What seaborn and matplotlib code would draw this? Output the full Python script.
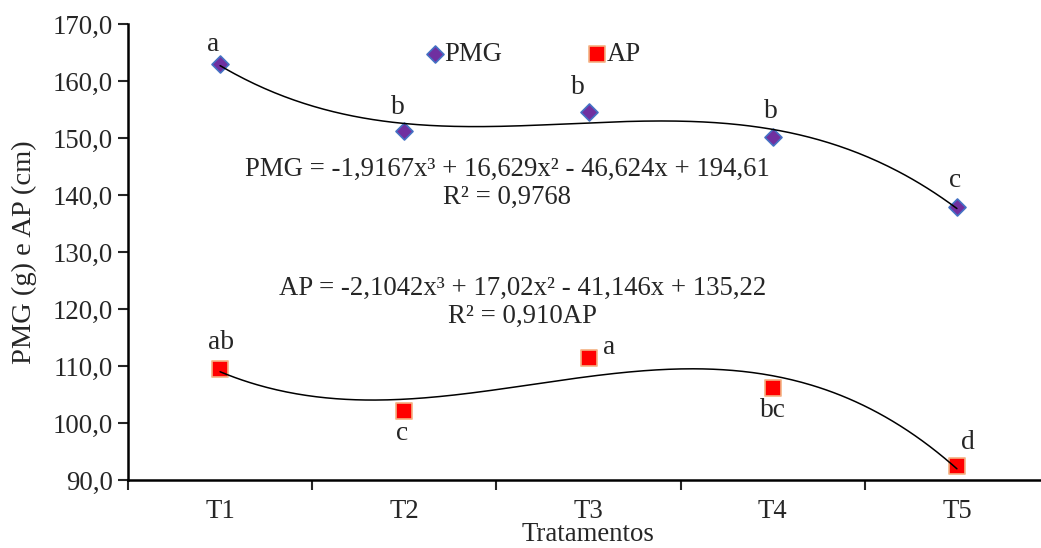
import numpy as np
import pandas as pd
import matplotlib
matplotlib.use("Agg")
import matplotlib.pyplot as plt
import seaborn as sns

# Treatments and measured means
tratamentos = ["T1", "T2", "T3", "T4", "T5"]
pmg = [163.0, 151.2, 154.6, 150.2, 137.9]
ap = [109.5, 102.1, 111.4, 106.1, 92.5]

# Mean-separation letters
letras_pmg = ["a", "b", "b", "b", "c"]
letras_ap = ["ab", "c", "a", "bc", "d"]

# Cubic trend coefficients (x = 1..5), highest degree first
coef_pmg = [-1.9167, 16.629, -46.624, 194.61]
coef_ap = [-2.1042, 17.02, -41.146, 135.22]

eq_pmg = "PMG = -1,9167x\u00b3 + 16,629x\u00b2 - 46,624x + 194,61\nR\u00b2 = 0,9768"
eq_ap = "AP = -2,1042x\u00b3 + 17,02x\u00b2 - 41,146x + 135,22\nR\u00b2 = 0,910AP"

y_ticks = [90, 100, 110, 120, 130, 140, 150, 160, 170]

sns.set_theme(style="ticks")
plt.rcParams["font.family"] = ["Liberation Serif", "DejaVu Serif"]

FS = 19.3

fig = plt.figure(figsize=(10.41, 5.48), dpi=100)
ax = fig.add_axes([128 / 1041, 68 / 548, 921 / 1041, 456 / 548])

pos = np.arange(len(tratamentos))
df = pd.DataFrame({"pos": pos, "PMG": pmg, "AP": ap})

sns.scatterplot(data=df, x="pos", y="PMG", ax=ax, marker="D", s=75,
                color="#7030A0", edgecolor="#4472C4", linewidth=1.2,
                label="PMG", zorder=3)
sns.scatterplot(data=df, x="pos", y="AP", ax=ax, marker="s", s=120,
                color="#FF0000", edgecolor="#F4B183", linewidth=1.2,
                label="AP", zorder=3)

# Fitted cubic curves over treatment index 1..5
xs = np.linspace(1, 5, 300)
curves = pd.DataFrame({
    "pos": xs - 1,
    "PMG": np.polyval(coef_pmg, xs),
    "AP": np.polyval(coef_ap, xs),
})
sns.lineplot(data=curves, x="pos", y="PMG", ax=ax, color="black",
             linewidth=1.1, legend=False, zorder=4)
sns.lineplot(data=curves, x="pos", y="AP", ax=ax, color="black",
             linewidth=1.1, legend=False, zorder=4)

# Letters next to each mean
off_pmg = [(-7, 19), (-6, 24), (-11, 24), (-2, 25), (-2, 26)]
off_ap = [(1, 26), (-2, -22), (21, 11), (0, -22), (11, 23)]
for i in range(len(tratamentos)):
    ax.annotate(letras_pmg[i], (pos[i], pmg[i]), xytext=off_pmg[i],
                textcoords="offset pixels", ha="center", va="center",
                fontsize=FS + 0.5)
    ax.annotate(letras_ap[i], (pos[i], ap[i]), xytext=off_ap[i],
                textcoords="offset pixels", ha="center", va="center",
                fontsize=FS + 0.5)

ax.text(2 - 81 / 184, 142.0, eq_pmg, ha="center", va="center",
        fontsize=FS, linespacing=1.15)
ax.text(2 - 66 / 184, 121.1, eq_ap, ha="center", va="center",
        fontsize=FS, linespacing=1.15)

ax.set_xlim(-0.5, 4.5)
ax.set_ylim(90, 170)
ax.set_yticks(y_ticks)
ax.set_yticklabels([f"{v:.1f}".replace(".", ",") for v in y_ticks], fontsize=FS)
ax.set_xticks(pos)
ax.set_xticklabels(tratamentos, fontsize=FS)
ax.set_xticks(np.arange(-0.5, 4.6, 1.0), minor=True)
ax.tick_params(axis="x", which="major", length=0, pad=14)
ax.tick_params(axis="x", which="minor", length=7, width=1.5, direction="out")
ax.tick_params(axis="y", which="major", length=7, width=1.5, direction="out",
               pad=4)

for side in ["top", "right"]:
    ax.spines[side].set_visible(False)
for side in ["left", "bottom"]:
    ax.spines[side].set_linewidth(1.8)
    ax.spines[side].set_color("black")

ax.set_xlabel("Tratamentos", fontsize=FS, labelpad=-1.5)
ax.set_ylabel("PMG (g) e AP (cm)", fontsize=20.5, labelpad=11)

handles, labels = ax.get_legend_handles_labels()
ax.legend(handles, labels, ncol=2, frameon=False, fontsize=FS,
          loc="center", bbox_to_anchor=(0.4385, 0.934),
          columnspacing=3.1, handletextpad=-0.1, handlelength=0.9,
          borderpad=0)

fig.savefig("out.png", dpi=100)
